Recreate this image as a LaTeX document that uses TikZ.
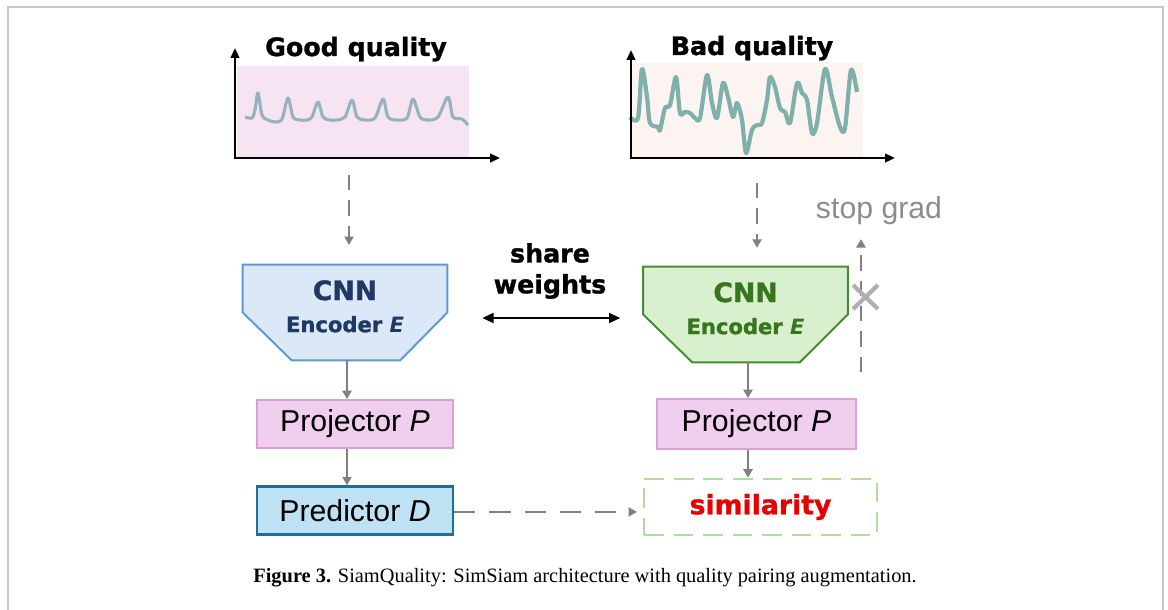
\documentclass[tikz,border=0pt]{standalone}
\usepackage{fontspec}
\setmainfont{Liberation Sans}
\newfontfamily\heavyfont{DejaVu Sans}[BoldFeatures={FakeBold=1.2}]
\newfontfamily\capfont{Liberation Serif}
\usetikzlibrary{arrows.meta,positioning,calc,backgrounds}

\definecolor{framegray}{RGB}{200,200,200}
\definecolor{pinkbg}{RGB}{247,228,243}
\definecolor{peachbg}{RGB}{252,244,240}
\definecolor{goodsig}{RGB}{150,178,190}
\definecolor{badsig}{RGB}{128,176,172}
\definecolor{encbluefill}{RGB}{218,232,248}
\definecolor{encbluedraw}{RGB}{91,155,213}
\definecolor{encbluetext}{RGB}{31,56,100}
\definecolor{encgreenfill}{RGB}{216,240,206}
\definecolor{encgreendraw}{RGB}{70,140,50}
\definecolor{encgreentext}{RGB}{56,118,29}
\definecolor{projfill}{RGB}{240,206,238}
\definecolor{projdraw}{RGB}{218,160,216}
\definecolor{predfill}{RGB}{190,226,244}
\definecolor{preddraw}{RGB}{30,110,150}
\definecolor{simdraw}{RGB}{178,220,160}
\definecolor{simtext}{RGB}{230,0,0}
\definecolor{flowgray}{RGB}{128,128,128}
\definecolor{stopgray}{RGB}{140,140,140}
\definecolor{xgray}{RGB}{175,175,175}

\newcommand{\headfont}{\heavyfont\bfseries\fontsize{18}{22}\selectfont}
\newcommand{\encfont}{\heavyfont\bfseries\fontsize{15}{22.8}\selectfont}
\newcommand{\boxfont}{\fontsize{21.5}{26}\selectfont}

\begin{document}
\begin{tikzpicture}[x=0.025cm,y=-0.025cm,
  axis/.style={line width=1.6pt,arrows={Triangle[length=7pt,width=6pt]-Triangle[length=7pt,width=6pt]}},
  flow/.style={color=flowgray,line width=1.4pt,arrows={-Triangle[length=6pt,width=6.5pt]}},
  dflow/.style={flow,dash pattern=on 11pt off 7pt},
  heading/.style={font=\headfont,anchor=base},
  enc/.style={inner sep=0pt,minimum width=5.1cm,minimum height=2.375cm,align=center,font=\encfont},
  box/.style={rectangle,line width=1.3pt,minimum width=4.9cm,minimum height=1.2cm,font=\boxfont}]
\useasboundingbox (0,0) rectangle (1168,610);
\draw[framegray,line width=1.5pt] (8,610) -- (8,7) -- (1163,7) -- (1163,610);

% good quality signal
\fill[pinkbg] (237,66) rectangle (469,157);
\draw[goodsig,line width=2.2pt,line join=round] plot[smooth,tension=0.5] coordinates {
  (245,117) (252,118) (255,110) (258,93) (262,115) (268,120) (275,122) (282,119)
  (288,98) (293,117) (300,120) (307,120) (312,117) (318,102) (323,117) (330,120)
  (337,120) (345,117) (352,100) (357,117) (365,120) (375,118) (383,99) (388,117)
  (397,120) (407,118) (413,99) (420,117) (428,120) (438,117) (448,97) (453,117)
  (462,119) (468,125)};
\draw[axis] (235,48) -- (235,158) -- (500,158);
\node[heading] (good) at (356,56) {Good quality};

% bad quality signal
\fill[peachbg] (631,63) rectangle (863,157);
\draw[badsig,line width=3pt,line join=round] plot[smooth,tension=0.5] coordinates {
  (630,117) (638,118) (642,69) (647,97) (650,123) (658,127) (660,130) (665,108)
  (670,105) (676,77) (680,113) (685,112) (690,113) (695,118) (700,118) (707,75)
  (712,103) (717,118) (723,83) (728,97) (733,117) (737,103) (742,120) (746,153)
  (752,130) (757,125) (762,123) (767,100) (770,77) (775,87) (780,108) (785,112)
  (790,123) (797,83) (802,93) (807,100) (812,133) (817,123) (825,69) (832,97)
  (840,127) (845,128) (851,70) (857,92)};
\draw[axis] (631,50) -- (631,158) -- (895,158);
\node[heading] (bad) at (752,55) {Bad quality};

% encoders
\node[enc,text=encbluetext] (encL) at (345,312.5)
  {{\fontsize{19}{22.8}\selectfont CNN}\\Encoder \textit{E}\rule[-9pt]{0pt}{9pt}};
\node[enc,text=encgreentext] (encR) at (745.5,314.5)
  {{\fontsize{19}{22.8}\selectfont CNN}\\Encoder \textit{E}\rule[-9pt]{0pt}{9pt}};
\begin{scope}[on background layer]
\draw[fill=encbluefill,draw=encbluedraw,line width=1.4pt]
  (encL.north west) -- (encL.north east) -- (encL.east) -- ($(encL.south east)+(-47,0)$)
  -- ($(encL.south west)+(49,0)$) -- (encL.west) -- cycle;
\draw[fill=encgreenfill,draw=encgreendraw,line width=1.4pt]
  (encR.north west) -- (encR.north east) -- (encR.east) -- ($(encR.south east)+(-48,0)$)
  -- ($(encR.south west)+(49,0)$) -- (encR.west) -- cycle;
\end{scope}

\node[font=\headfont,align=center] (sw) at (550,271) {share\\weights};
\draw[line width=1.5pt,arrows={Triangle[length=8pt,width=7pt]-Triangle[length=8pt,width=7pt]}]
  ($(encL.east)+(35,5.5)$) -- ++(138,0);

% heads
\node[box,fill=projfill,draw=projdraw] (projL) at (355,424) {Projector \textit{P}};
\node[box,fill=predfill,draw=preddraw,line width=1.8pt] (predL) at (355,510.5) {Predictor \textit{D}};
\node[box,fill=projfill,draw=projdraw,minimum width=4.975cm,minimum height=1.25cm] (projR) at (756.5,424) {Projector \textit{P}};
\node[rectangle,draw=simdraw,line width=2pt,dash pattern=on 14pt off 7pt,
  minimum width=5.825cm,minimum height=1.4cm,font=\headfont\fontsize{19}{22}\selectfont,
  text=simtext] (sim) at (760.5,507) {similarity};

% flow
\coordinate (inL) at (349,175);
\coordinate (inR) at (757,183);
\coordinate (outL) at ($(encL.south)+(2,0)$);
\coordinate (outR) at ($(encR.south)+(2.5,0)$);
\draw[dflow,shorten >=14pt] (inL) -- (inL |- encL.north);
\draw[dflow,shorten >=13.5pt] (inR) -- (inR |- encR.north);
\draw[flow] (outL) -- (outL |- projL.north);
\draw[flow] (outL |- projL.south) -- (outL |- predL.north);
\draw[flow] (outR) -- (outR |- projR.north);
\draw[flow] (outR |- projR.south) -- (outR |- sim.north);
\draw[flow,dash pattern=on 15pt off 10pt,shorten >=4pt] ([yshift=-1pt]predL.east) -- ([yshift=-1pt]predL.east -| sim.west);

% stop gradient
\node[font=\boxfont,text=stopgray,anchor=base] (sg) at (879,218) {stop grad};
\coordinate (sgfoot) at (861,372);
\draw[dflow,shorten >=7pt] (sgfoot) -- (sgfoot |- sg.south);
\draw[xgray,line width=3pt] (853,285) -- (878,309) (853,309) -- (878,285);

\node[font=\capfont\fontsize{14.5}{17}\selectfont,anchor=base] (cap) at (585,582)
  {\textbf{Figure 3.} SiamQuality: SimSiam architecture with quality pairing augmentation.};
\end{tikzpicture}
\end{document}
